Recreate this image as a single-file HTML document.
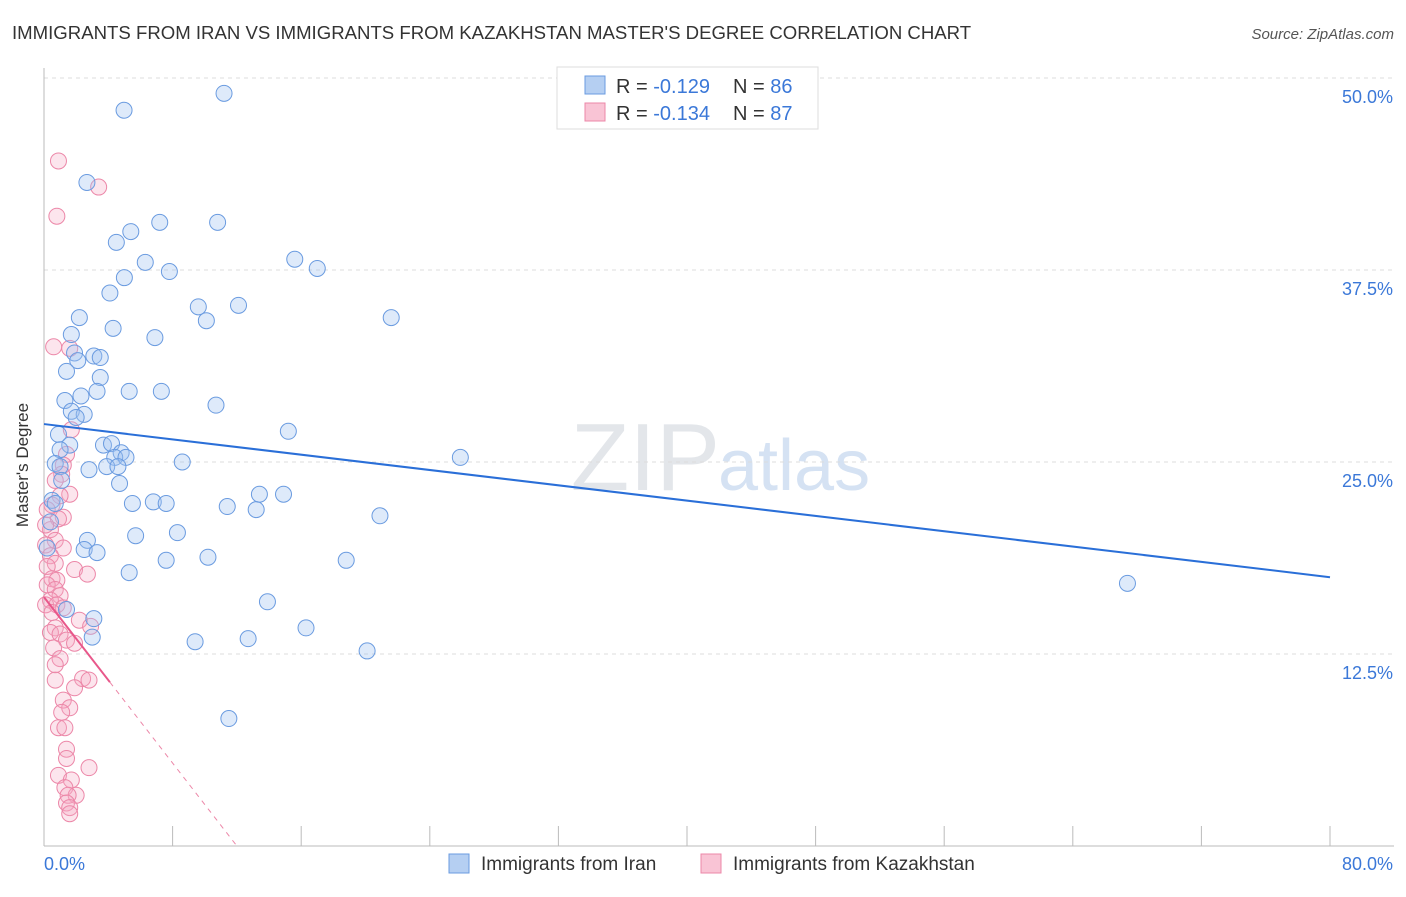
<!DOCTYPE html>
<html><head><meta charset="utf-8"><style>
body{margin:0;background:#fff;font-family:"Liberation Sans",sans-serif;}
svg text{font-family:"Liberation Sans",sans-serif;}
</style></head><body>
<svg id="chart" width="1406" height="892">
<text x="12" y="39" font-size="18.6" fill="#333">IMMIGRANTS FROM IRAN VS IMMIGRANTS FROM KAZAKHSTAN MASTER'S DEGREE CORRELATION CHART</text>
<text x="1394" y="39" font-size="15" fill="#555" font-style="italic" text-anchor="end">Source: ZipAtlas.com</text>
<text x="720" y="490" font-size="96" fill="#e3e6ea" text-anchor="end" font-family="Liberation Serif">ZIP</text>
<text x="718" y="490" font-size="72" fill="#d5e2f3">atlas</text>
<g id="grid"></g><g id="pts"></g><g id="lines"></g>
<text x="18" y="455" font-size="17" fill="#333" transform="rotate(-90 28 455)" text-anchor="middle">Master's Degree</text>
<g>
<rect x="557" y="67" width="261" height="62" fill="#fff" stroke="#ddd"/>
<rect x="585" y="76" width="20" height="18" fill="#b5cff2" stroke="#6a9be0"/>
<rect x="585" y="103" width="20" height="18" fill="#f9c4d5" stroke="#ec87a8"/>
<text x="616" y="93" font-size="20" fill="#333">R = <tspan fill="#3b78d8">-0.129</tspan></text>
<text x="733" y="93" font-size="20" fill="#333">N = <tspan fill="#3b78d8">86</tspan></text>
<text x="616" y="120" font-size="20" fill="#333">R = <tspan fill="#3b78d8">-0.134</tspan></text>
<text x="733" y="120" font-size="20" fill="#333">N = <tspan fill="#3b78d8">87</tspan></text>
</g>
<g>
<rect x="449" y="854" width="20" height="19" fill="#b5cff2" stroke="#6a9be0"/>
<text x="481" y="870" font-size="19" fill="#333">Immigrants from Iran</text>
<rect x="701" y="854" width="20" height="19" fill="#f9c4d5" stroke="#ec87a8"/>
<text x="733" y="870" font-size="19" fill="#333">Immigrants from Kazakhstan</text>
</g>
</svg>
<script>
const yTicks=[12.5,25,37.5,50];
const yTickLabels=["12.5%","25.0%","37.5%","50.0%"];
const xTicks=[0,8,16,24,32,40,48,56,64,72,80];
const iranX=[4.98,11.2,2.67,7.2,10.8,5.4,4.5,6.3,7.8,15.6,17.0,5.0,4.1,9.6,12.1,10.1,21.6,2.2,4.3,1.7,6.9,1.9,3.1,3.5,2.1,1.4,3.5,5.3,7.3,3.3,2.3,1.3,10.7,1.7,2.5,2.0,15.2,0.9,1.6,3.7,4.2,1.0,4.8,4.4,5.1,25.9,8.6,0.7,1.0,3.9,4.6,2.8,1.1,4.7,13.4,14.9,6.8,7.6,5.5,0.5,0.7,11.4,13.2,20.9,8.3,5.7,2.7,2.5,3.3,10.2,7.6,18.8,5.3,67.4,13.9,1.4,3.1,16.3,3.0,12.7,9.4,20.1,11.5,0.4,0.2];
const iranY=[47.9,49.0,43.2,40.6,40.6,40.0,39.3,38.0,37.4,38.2,37.6,37.0,36.0,35.1,35.2,34.2,34.4,34.4,33.7,33.3,33.1,32.1,31.9,31.8,31.6,30.9,30.5,29.6,29.6,29.6,29.3,29.0,28.7,28.3,28.1,27.9,27.0,26.8,26.1,26.1,26.2,25.8,25.6,25.3,25.3,25.3,25.0,24.9,24.7,24.7,24.7,24.5,23.8,23.6,22.9,22.9,22.4,22.3,22.3,22.5,22.3,22.1,21.9,21.5,20.4,20.2,19.9,19.3,19.1,18.8,18.6,18.6,17.8,17.1,15.9,15.4,14.8,14.2,13.6,13.5,13.3,12.7,8.3,21.1,19.4];
const kazX=[0.9,3.4,0.8,0.6,1.6,1.7,1.4,1.2,1.1,0.7,1.6,1.0,0.5,1.2,0.9,0.4,0.7,0.1,1.2,0.4,0.7,0.2,1.9,2.7,0.5,0.8,0.2,0.7,1.0,0.4,0.1,0.8,1.2,0.5,2.2,2.9,0.7,0.4,1.0,1.4,1.9,0.6,1.0,0.7,2.4,2.8,0.7,1.9,1.2,1.6,1.1,0.9,1.3,1.4,1.4,2.8,0.9,1.7,1.3,2.0,1.5,1.4,1.6,1.6,0.2,0.1];
const kazY=[44.6,42.9,41.0,32.5,32.4,27.1,25.5,24.8,24.2,23.8,22.9,22.8,22.2,21.4,21.3,20.6,19.9,19.6,19.4,18.9,18.4,18.2,18.0,17.7,17.4,17.3,17.0,16.7,16.3,16.0,15.7,15.7,15.5,15.2,14.7,14.3,14.2,13.9,13.8,13.4,13.2,12.9,12.2,11.8,10.9,10.8,10.8,10.3,9.5,9.0,8.7,7.7,7.7,6.3,5.7,5.1,4.6,4.3,3.8,3.3,3.3,2.8,2.5,2.1,21.9,20.9];
const iranTrend=[27.47,17.5];
const kazTrend=[16.2,-1.35];
const X0=44,X1=1330,Y0=846;
function sx(v){return X0+v*(X1-X0)/80;}
function sy(v){return Y0-v*15.36;}
const NS="http://www.w3.org/2000/svg";
function mk(tag,attrs,parent){const e=document.createElementNS(NS,tag);for(const k in attrs)e.setAttribute(k,attrs[k]);parent.appendChild(e);return e;}
const grid=document.getElementById('grid');
yTicks.forEach((t,i)=>{
 const l=mk('line',{x1:X0,x2:1394,y1:sy(t),y2:sy(t),stroke:'#dcdcdc','stroke-dasharray':'4,4'},grid);
 
 
 const tx=mk('text',{x:1393,y:sy(t)+25,'font-size':18,fill:'#3b78d8','text-anchor':'end'},grid);
 tx.textContent=yTickLabels[i];
 
 
});
const ax=mk('line',{x1:X0,x2:1394,y1:Y0,y2:Y0,stroke:'#bbb'},grid);


const ay=mk('line',{x1:X0,x2:X0,y1:68,y2:Y0,stroke:'#bbb'},grid);


xTicks.forEach(t=>{
 const l=mk('line',{x1:sx(t),x2:sx(t),y1:826,y2:Y0,stroke:'#bbb'},grid);
 
 
});
const xl0=mk('text',{x:44,y:870,'font-size':18,fill:'#3b78d8'},grid);xl0.textContent='0.0%';


const xl1=mk('text',{x:1393,y:870,'font-size':18,fill:'#3b78d8','text-anchor':'end'},grid);xl1.textContent='80.0%';


const pts=document.getElementById('pts');
kazX.forEach((x,i)=>{
 const c=mk('circle',{cx:sx(x),cy:sy(kazY[i]),r:8,fill:'rgba(245,170,195,0.3)',stroke:'#ec87a8','stroke-width':1},pts);
 
 
});
iranX.forEach((x,i)=>{
 const c=mk('circle',{cx:sx(x),cy:sy(iranY[i]),r:8,fill:'rgba(160,195,240,0.35)',stroke:'#6a9be0','stroke-width':1},pts);
 
 
});
const lines=document.getElementById('lines');
const bl=mk('line',{x1:sx(0),y1:sy(iranTrend[0]),x2:sx(80),y2:sy(iranTrend[1]),stroke:'#2a6fd8','stroke-width':2},lines);


const pl=mk('line',{x1:sx(0),y1:sy(kazTrend[0]),x2:sx(4.1),y2:sy(kazTrend[0]+kazTrend[1]*4.1),stroke:'#e8578a','stroke-width':2},lines);


const xe=-kazTrend[0]/kazTrend[1];
const pd=mk('line',{x1:sx(4.1),y1:sy(kazTrend[0]+kazTrend[1]*4.1),x2:sx(xe),y2:sy(0),stroke:'#ec87a8','stroke-width':1,'stroke-dasharray':'5,5'},lines);


</script>
</body></html>
